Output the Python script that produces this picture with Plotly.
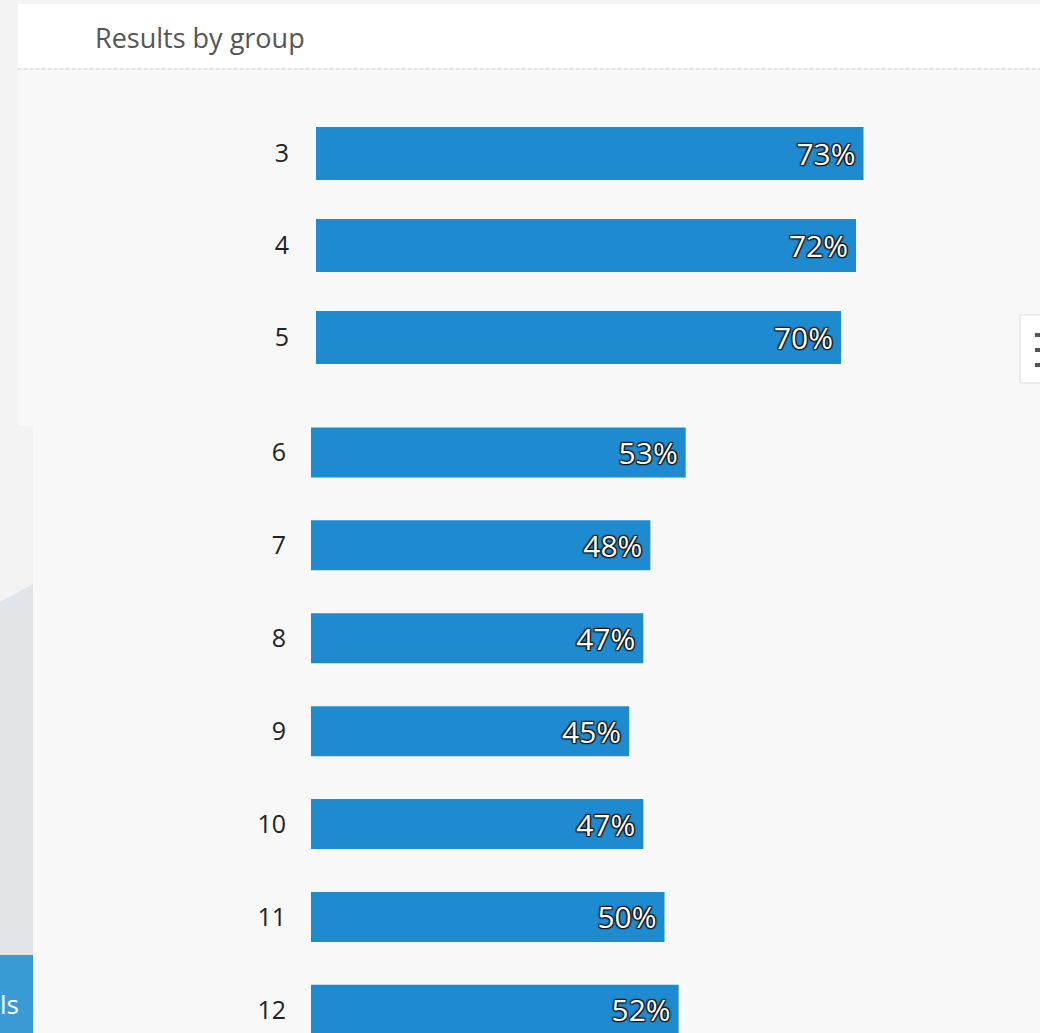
import plotly.graph_objects as go

W, H = 1040, 1033

# ---- data ----
groups_top = ["3", "4", "5"]
values_top = [73, 72, 70]
groups_bottom = ["6", "7", "8", "9", "10", "11", "12"]
values_bottom = [53, 48, 47, 45, 47, 50, 52]
title_text = "Results by group"

BAR = "#1e8bd0"
FONT = "Open Sans"

def px(x):
    return x / W

def py(y):
    return 1 - y / H

label_shadow = ("-1px -1px 1px #111, 1px -1px 1px #111, "
                "-1px 1px 1px #111, 1px 1px 1px #111, "
                "0 0 2px #111")

def pct(v):
    return f"{v}%\u2009"

fig = go.Figure()
fig.add_trace(go.Bar(
    x=values_top, y=groups_top, orientation="h",
    marker=dict(color=BAR, line=dict(width=0)),
    width=0.576,
    text=[pct(v) for v in values_top], textposition="inside",
    insidetextanchor="end",
    textfont=dict(family=FONT, size=30, color="white", shadow=label_shadow),
    xaxis="x", yaxis="y", hoverinfo="skip",
))
fig.add_trace(go.Bar(
    x=values_bottom, y=groups_bottom, orientation="h",
    marker=dict(color=BAR, line=dict(width=0)),
    width=0.538,
    text=[pct(v) for v in values_bottom], textposition="inside",
    insidetextanchor="end",
    textfont=dict(family=FONT, size=30, color="white", shadow=label_shadow),
    xaxis="x2", yaxis="y2", hoverinfo="skip",
))

# top panel: 0% at x=316, 7.5 px per %
top_x0 = 316
top_scale = 7.5
# bottom panel: 0% at x=311, 7.07 px per %
bot_x0 = 311
bot_scale = 7.07

top_y0, top_y1 = 107.5, 383.5
bot_y0, bot_y1 = 406.0, 1033.0
bot_row = 92.9

shapes = [
    # white header
    dict(type="rect", xref="paper", yref="paper", x0=px(18), x1=px(1040), y0=py(4), y1=py(68),
         fillcolor="white", line=dict(width=0), layer="below"),
    # chart panels
    dict(type="rect", xref="paper", yref="paper", x0=px(18), x1=px(1040), y0=py(70), y1=py(426),
         fillcolor="#f8f8f8", line=dict(width=0), layer="below"),
    dict(type="rect", xref="paper", yref="paper", x0=px(33), x1=px(1040), y0=py(425), y1=py(1033),
         fillcolor="#f8f8f8", line=dict(width=0), layer="below"),
    # dashed separator
    dict(type="line", xref="paper", yref="paper", x0=px(18), x1=px(1040), y0=py(69), y1=py(69),
         line=dict(color="#dcdcdc", width=1.5, dash="dot"), layer="below"),
    # left grey diagonal area
    dict(type="path", xref="paper", yref="paper",
         path=f"M 0 {py(602)} L {px(33)} {py(584)} L {px(33)} {py(955)} L 0 {py(955)} Z",
         fillcolor="#e1e5e7", line=dict(width=0), layer="below"),
    # left blue button
    dict(type="rect", xref="paper", yref="paper", x0=0, x1=px(33), y0=py(955), y1=py(1033),
         fillcolor="#3a9ad4", line=dict(width=0), layer="below"),
    # menu button on right
    dict(type="rect", xref="paper", yref="paper", x0=px(1020), x1=px(1046), y0=py(315), y1=py(383),
         fillcolor="white", line=dict(color="#dddddd", width=1), layer="below"),
]
for yy in (335, 350, 365):
    shapes.append(dict(type="line", xref="paper", yref="paper", x0=px(1035), x1=px(1042),
                       y0=py(yy), y1=py(yy), line=dict(color="#555555", width=4), layer="below"))

fig.update_layout(
    width=W, height=H,
    margin=dict(l=0, r=0, t=0, b=0),
    paper_bgcolor="#f3f3f3",
    plot_bgcolor="rgba(0,0,0,0)",
    showlegend=False,
    shapes=shapes,
    font=dict(family=FONT),
    xaxis=dict(domain=[px(top_x0), 1], range=[0, (W - top_x0) / top_scale],
               visible=False, anchor="y"),
    yaxis=dict(domain=[py(top_y1), py(top_y0)], range=[2.5, -0.5], type="category",
               categoryorder="array", categoryarray=groups_top,
               showgrid=False, zeroline=False, showline=False, ticks="",
               ticklabelstandoff=26,
               tickfont=dict(family=FONT, size=25, color="#222222"), anchor="x"),
    xaxis2=dict(domain=[px(bot_x0), 1], range=[0, (W - bot_x0) / bot_scale],
                visible=False, anchor="y2"),
    yaxis2=dict(domain=[py(bot_y1), py(bot_y0)],
                range=[-0.5 + (bot_y1 - bot_y0) / bot_row, -0.5], type="category",
                categoryorder="array", categoryarray=groups_bottom,
                showgrid=False, zeroline=False, showline=False, ticks="",
                ticklabelstandoff=24,
                tickfont=dict(family=FONT, size=25, color="#222222"), anchor="x2"),
    annotations=[
        dict(text=title_text, xref="paper", yref="paper", x=px(93), y=py(37),
             xanchor="left", yanchor="middle", showarrow=False,
             font=dict(family=FONT, size=27, color="#555555")),
        dict(text="ls", xref="paper", yref="paper", x=px(21), y=py(1004),
             xanchor="right", yanchor="middle", showarrow=False,
             font=dict(family=FONT, size=26, color="white")),
    ],
)

fig.write_html("out.html")
